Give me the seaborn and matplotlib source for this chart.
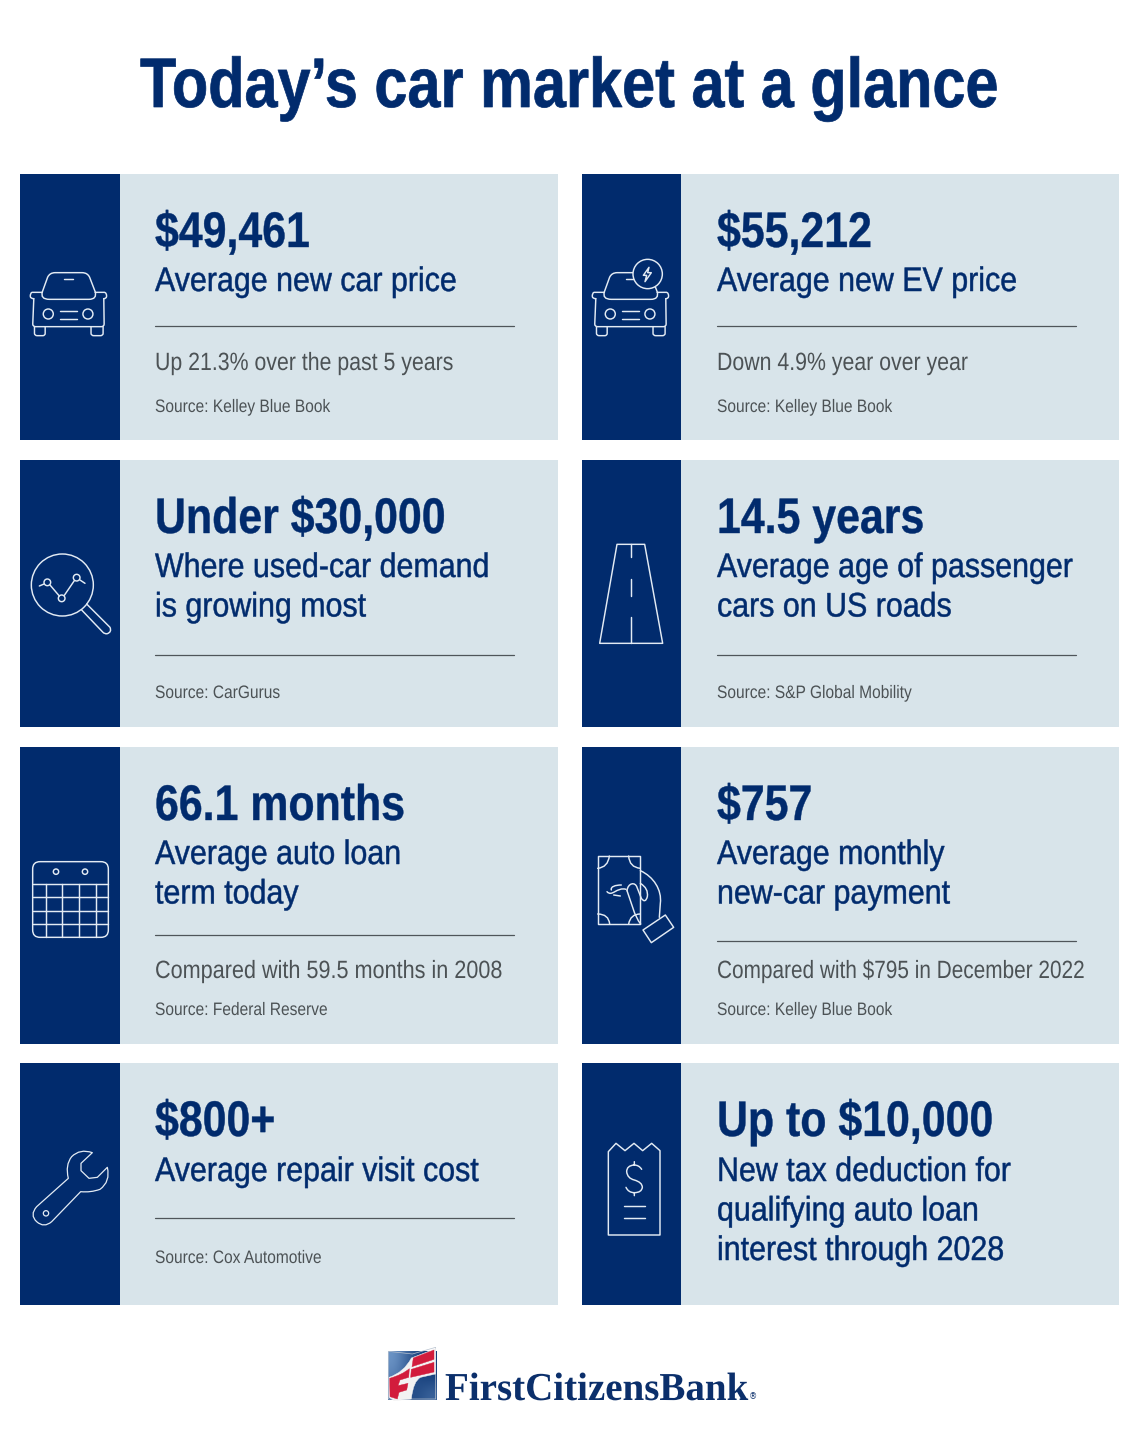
import re
import numpy as np
import matplotlib
matplotlib.use("Agg")
import matplotlib.pyplot as plt
from matplotlib.path import Path
from matplotlib.patches import PathPatch, Rectangle, Circle, Ellipse
from matplotlib.patheffects import AbstractPathEffect
from matplotlib.transforms import Affine2D
import seaborn as sns

# ---------- content ----------
title = "Today’s car market at a glance"
headlines = ["$49,461", "$55,212", "Under $30,000", "14.5 years",
             "66.1 months", "$757", "$800+", "Up to $10,000"]
subtitles = [["Average new car price"], ["Average new EV price"],
             ["Where used-car demand", "is growing most"],
             ["Average age of passenger", "cars on US roads"],
             ["Average auto loan", "term today"],
             ["Average monthly", "new-car payment"],
             ["Average repair visit cost"],
             ["New tax deduction for", "qualifying auto loan", "interest through 2028"]]
notes = ["Up 21.3% over the past 5 years", "Down 4.9% year over year", "", "",
         "Compared with 59.5 months in 2008", "Compared with $795 in December 2022", "", ""]
sources = ["Source: Kelley Blue Book", "Source: Kelley Blue Book", "Source: CarGurus",
           "Source: S&P Global Mobility", "Source: Federal Reserve", "Source: Kelley Blue Book",
           "Source: Cox Automotive", ""]
brand = "FirstCitizensBank"

# ---------- layout (pixels) ----------
NAVY, CARD, GREY, RULE, ICON = "#012b6d", "#d8e4ea", "#4c5255", "#4f555a", "#e3ebf4"
col_x = [20, 582]
card_w = [538, 537]
band_w = [100, 99]
rows = [(174, 440), (460, 727), (747, 1044), (1063, 1305)]
head_base = [247, 533, 820, 1136]
sub_base = [291, 577, 864, 1181]
rule_y = [326, 326, 655, 655, 935, 941, 1218, None]
note_y = [370, 370, None, None, 978, 978, None, None]
note_sx = [0.852, 0.852, 1, 1, 0.865, 0.832, 1, 1]
src_y = [412, 412, 698, 698, 1015, 1015, 1263, None]

sns.set_theme(style="white")
plt.rcParams["font.family"] = ["Liberation Sans", "DejaVu Sans"]

fig = plt.figure(figsize=(11.4, 14.39), dpi=100, facecolor="white")
ax = fig.add_axes([0, 0, 1, 1])
ax.set_xlim(0, 1140)
ax.set_ylim(1439, 0)
ax.axis("off")
rend = fig.canvas.get_renderer()


class Condense(AbstractPathEffect):
    """Narrow the glyphs of a centred text about its centre; optionally thicken them."""

    def __init__(self, sx, shift, embolden=0.0):
        super().__init__()
        self.sx, self.shift, self.embolden = sx, shift, embolden

    def draw_path(self, renderer, gc, tpath, affine, rgbFace=None):
        aff = Affine2D().scale(self.sx, 1) + affine + Affine2D().translate(self.shift, 0)
        g = renderer.new_gc()
        g.copy_properties(gc)
        if self.embolden and rgbFace is not None:
            g.set_foreground(rgbFace)
            g.set_linewidth(self.embolden)
        renderer.draw_path(g, tpath, aff, rgbFace)
        g.restore()


def T(x, y, s, size, sx=1.0, embolden=0.0, color=NAVY, weight="normal", **kw):
    t = ax.text(x, y, s, fontsize=size, color=color, fontweight=weight, va="baseline",
                ha="center", **kw)
    w = t.get_window_extent(rend).width
    t.set_x(x + sx * w / 2)
    t.set_path_effects([Condense(sx, (1 - sx) * w / 2, embolden)])
    return t


def svg(d, ox, oy, k=3.0, kx=None, lw=1.05, color=ICON, fill="none", z=5):
    kx = kx or k
    tok = re.findall(r"[MLQCZ]|-?\d+\.?\d*", d)
    v, c, i, cmd = [], [], 0, None
    nargs = {"M": 1, "L": 1, "Q": 2, "C": 3}
    codes = {"M": [Path.MOVETO], "L": [Path.LINETO], "Q": [Path.CURVE3] * 2, "C": [Path.CURVE4] * 3}
    while i < len(tok):
        if tok[i] in "MLQCZ":
            cmd = tok[i]
            i += 1
            if cmd == "Z":
                v.append(v[-1]); c.append(Path.CLOSEPOLY)
                continue
        for j in range(nargs[cmd]):
            v.append((ox + float(tok[i]) / kx, oy + float(tok[i + 1]) / k))
            c.append(codes[cmd][j])
            i += 2
        if cmd == "M":
            cmd = "L"
    ax.add_patch(PathPatch(Path(v, c), fc=fill, ec=color, lw=lw, zorder=z,
                           capstyle="round", joinstyle="round"))


def ring(cx, cy, r, ox, oy, k=3.0, kx=None, lw=1.05, fill="none", z=5):
    kx = kx or k
    ax.add_patch(Circle((ox + cx / kx, oy + cy / k), r / k, fc=fill, ec=ICON, lw=lw, zorder=z))


def car(ox, oy, kx=2.9):
    def s(d):
        svg(d, ox, oy, kx=kx)
    s("M 65 365 L 80 322 Q 86 308 102 308 L 180 308 Q 196 308 202 322 L 218 365 "
      "Q 224 388 200 388 L 85 388 Q 58 388 65 365 Z")
    s("M 65 367 L 35 367 Q 29 369 30 380 Q 31 386 40 386")
    s("M 218 367 L 245 367 Q 252 369 251 380 Q 250 386 243 386")
    s("M 40 386 L 37 462 Q 37 470 45 470 L 236 470 Q 244 470 244 462 L 243 386")
    s("M 42 470 L 42 490 Q 42 497 50 497 L 66 497 Q 73 497 73 490 L 73 470")
    s("M 206 470 L 206 490 Q 206 497 214 497 L 233 497 Q 241 497 241 490 L 241 470")
    ring(82, 432, 15, ox, oy, kx=kx)
    ring(197, 432, 15, ox, oy, kx=kx)
    for d in ["M 116 424 L 165 424", "M 116 447 L 165 447", "M 129 327 L 153 327"]:
        s(d)


def magnifier():
    ox, oy = 20, 530
    ring(127, 165, 93, ox, oy)
    svg("M 200 222 L 270 292 Q 276 306 262 311 Q 254 313 248 306 L 185 240", ox, oy)
    svg("M 58 168 L 72 162 M 90 165 L 118 198 M 133 196 L 163 152 M 180 150 L 195 160", ox, oy)
    for cx, cy in [(82, 157), (125, 205), (170, 143)]:
        ring(cx, cy, 10, ox, oy)


def road():
    ox, oy = 582, 530
    svg("M 105 43 L 188 43 L 242 340 L 53 340 Z", ox, oy)
    svg("M 147 43 L 147 82 M 147 147 L 147 198 M 147 262 L 147 340", ox, oy)


def calendar():
    ox, oy = 20, 850
    svg("M 60 35 L 243 35 Q 265 35 265 57 L 265 240 Q 265 262 243 262 L 60 262 "
        "Q 38 262 38 240 L 38 57 Q 38 35 60 35 Z", ox, oy)
    for y in [102, 142, 182, 222]:
        svg(f"M 38 {y} L 265 {y}", ox, oy)
    for x in [77, 127, 177, 227]:
        svg(f"M {x} 102 L {x} 262", ox, oy)
    ring(108, 65, 8, ox, oy)
    ring(195, 65, 8, ox, oy)


def hand():
    ox, oy = 582, 840
    svg("M 47 48 L 175 48 L 175 252 L 47 252 Z", ox, oy)
    for d in ["M 47 85 Q 78 82 82 48", "M 140 48 Q 142 82 175 85",
              "M 47 222 Q 80 222 83 252", "M 175 222 Q 145 222 140 252"]:
        svg(d, ox, oy)
    svg("M 75 155 C 90 172 105 140 132 148 M 118 135 C 100 135 85 140 88 150 "
        "M 95 165 L 115 168", ox, oy)
    svg("M 175 92 C 215 110 240 150 235 190 L 232 232", ox, oy)
    svg("M 135 152 C 138 128 160 125 165 142 L 178 175 Q 190 192 196 170 "
        "Q 200 145 175 130", ox, oy)
    svg("M 135 152 L 153 205 Q 162 235 176 252", ox, oy)
    svg("M 183 270 L 250 225 L 275 262 L 208 308 Z", ox, oy)


def wrench():
    ox, oy = 20, 1140
    svg("M 145 115 L 50 200 Q 28 225 50 245 Q 72 265 95 245 L 182 155 Q 212 158 240 148 "
        "Q 272 125 262 82 L 232 112 L 207 115 L 183 92 L 183 70 L 217 38 "
        "Q 180 25 155 50 Q 135 75 145 115 Z", ox, oy, lw=0.9)
    ring(78, 220, 8, ox, oy, lw=0.9)


def receipt():
    ox, oy = 590, 1130
    svg("M 55 65 L 78 40 L 105 62 L 132 40 L 158 62 L 185 40 L 210 62 L 210 315 L 55 315 Z", ox, oy)
    svg("M 155 118 Q 147 105 132 105 Q 110 107 110 125 Q 112 145 133 150 Q 157 157 157 172 "
        "Q 155 188 133 188 Q 115 188 108 172 M 133 95 L 133 105 M 133 188 L 133 197", ox, oy)
    svg("M 103 229 L 165 229 M 103 264 L 165 264", ox, oy)


# ---------- title ----------
T(140, 107, title, 50.5, sx=0.847, embolden=0.5, weight="bold")

# ---------- cards ----------
for i, head in enumerate(headlines):
    r, c = i // 2, i % 2
    x0, (y0, y1) = col_x[c], rows[r]
    ax.add_patch(Rectangle((x0, y0), card_w[c], y1 - y0, fc=CARD, ec="none", zorder=1))
    ax.add_patch(Rectangle((x0, y0), band_w[c], y1 - y0, fc=NAVY, ec="none", zorder=2))
    tx = x0 + 135
    T(tx, head_base[r], head, 36, sx=0.857, embolden=0.3, weight="bold")
    for j, line in enumerate(subtitles[i]):
        T(tx, sub_base[r] + j * 39.5, line, 24.5, sx=0.893, embolden=0.35)
    if rule_y[i]:
        sns.lineplot(x=[tx, tx + 358.5], y=[rule_y[i], rule_y[i]], ax=ax, color=RULE, lw=0.9,
                     sort=False, estimator=None, errorbar=None, legend=False, zorder=3)
    if note_y[i]:
        T(tx, note_y[i], notes[i], 18, sx=note_sx[i], color=GREY)
    if src_y[i]:
        T(tx, src_y[i], sources[i], 13, sx=0.86, color=GREY)

# ---------- icons ----------
car(20, 170)
car(582, 170)
ring(203, 72, 44, 580, 250, fill=NAVY, z=6)
svg("M 207 52 L 190 76 L 200 76 L 195 95 L 214 68 L 203 68 Z", 580, 250, z=7)
magnifier()
road()
calendar()
hand()
wrench()
receipt()

# ---------- logo ----------
grad = np.array([[0.55, 0.12, 0.0], [0.45, 0.1, 0.0], [0.25, 0.05, 0.25]])
blues = matplotlib.colors.LinearSegmentedColormap.from_list("b", ["#123b78", "#6f97c8"])
ax.imshow(grad, extent=(388, 437, 1400, 1351), cmap=blues, aspect="auto", interpolation="bicubic", zorder=3)
ax.set_xlim(0, 1140)
ax.set_ylim(1439, 0)
ox, oy = 384, 1344
svg("M 13 22 L 85 30 L 155 10 L 155 165 L 13 165 Z", ox, oy, color="#b8c2cf", lw=0.5, z=3)
svg("M 15 100 Q 60 85 82 42 L 155 14 L 155 90 L 110 100 Q 88 110 82 165 L 30 170 L 15 160 Z",
    ox, oy, color="#f2f2f2", fill="#f2f2f2", lw=0.3, z=4)
for d in ["M 88 42 L 150 18 L 150 46 L 84 68 Z",
          "M 82 76 L 150 55 L 150 84 L 80 100 Z",
          "M 17 103 Q 55 92 76 74 L 74 100 L 48 108 L 42 125 L 72 118 L 68 138 L 45 145 L 40 165 L 18 158 Z"]:
    svg(d, ox, oy, color="#d21c3c", fill="#d21c3c", lw=0.3, z=5)
T(445, 1400, brand, 28.5, sx=0.985, weight="bold", family="Liberation Serif", color="#0b2f6b")
ax.text(753, 1397, "®", fontsize=6, color="#0b2f6b", ha="center", va="center", family="DejaVu Sans")

fig.savefig("out.png", dpi=100, facecolor="white")
